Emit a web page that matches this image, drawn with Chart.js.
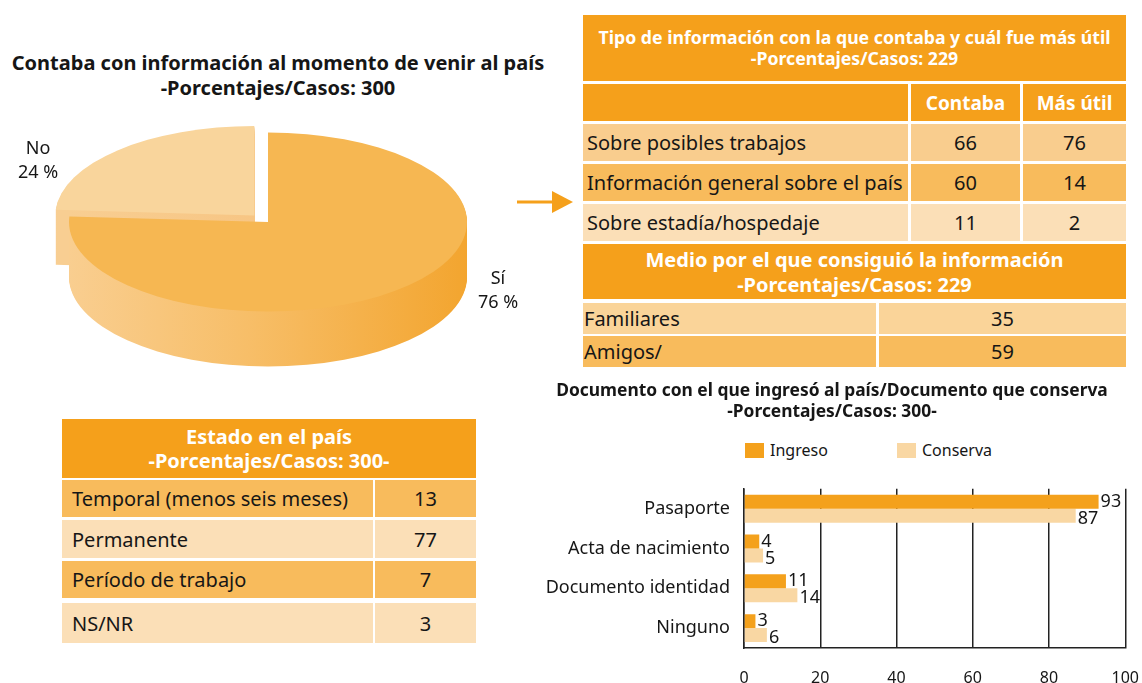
<!DOCTYPE html>
<html lang="es">
<head>
<meta charset="utf-8">
<script src="https://cdn.jsdelivr.net/npm/chart.js@4.4.0/dist/chart.umd.min.js"></script>
<style>
  body { margin: 0; width: 1142px; height: 683px; background: #fff; position: relative; overflow: hidden;
         font-family: "Noto Sans", sans-serif; color: #161616; }
  .abs { position: absolute; }
  .titulo { font-weight: bold; text-align: center; white-space: nowrap; }
  .celda { position: absolute; display: flex; align-items: center; box-sizing: border-box; white-space: nowrap; }
  canvas { position: absolute; }
</style>
</head>
<body>

<div class="abs titulo" style="left:-2px;top:50px;width:560px;font-size:20px;line-height:25px;">
  Contaba con información al momento de venir al país<br>-Porcentajes/Casos: 300
</div>
<canvas id="grafico-torta" width="560" height="300" style="left:0;top:100px;"></canvas>
<div id="etiquetas-torta"></div>

<svg class="abs" style="left:510px;top:186px;" width="70" height="34">
  <line x1="7" y1="16" x2="44" y2="16" stroke="#F5A01B" stroke-width="3"/>
  <polygon points="42,5 63,16 42,27" fill="#F5A01B"/>
</svg>

<div id="tablas"></div>

<div class="abs titulo" style="left:540px;top:379px;width:584px;font-size:17.4px;line-height:21px;">
  Documento con el que ingresó al país/Documento que conserva<br>-Porcentajes/Casos: 300-
</div>
<div id="leyenda-barras"></div>
<canvas id="grafico-barras" width="620" height="222" style="left:540px;top:464px;"></canvas>

<script>
/* --- Datos --- */
const PIE_LABELS = ['Sí', 'No'];
const PIE_VALUES = [76, 24];

const TIPO_FILAS = ['Sobre posibles trabajos', 'Información general sobre el país', 'Sobre estadía/hospedaje'];
const TIPO_CONTABA = [66, 60, 11];
const TIPO_UTIL = [76, 14, 2];

const MEDIO_FILAS = ['Familiares', 'Amigos/'];
const MEDIO_VALORES = [35, 59];

const ESTADO_FILAS = ['Temporal (menos seis meses)', 'Permanente', 'Período de trabajo', 'NS/NR'];
const ESTADO_VALORES = [13, 77, 7, 3];

const DOC_CATEGORIAS = ['Pasaporte', 'Acta de nacimiento', 'Documento identidad', 'Ninguno'];
const DOC_SERIES = ['Ingreso', 'Conserva'];
const DOC_INGRESO = [93, 4, 11, 3];
const DOC_CONSERVA = [87, 5, 14, 6];
const DOC_TICKS = [0, 20, 40, 60, 80, 100];

const NARANJA = '#F5A01B';
const OSCURO = '#F8BB5C';
const MEDIO = '#F9CD8E';
const CLARO = '#FBDFB7';

/* --- Tablas (celdas posicionadas) --- */
const contenedor = document.getElementById('tablas');

function celda(x, y, w, h, texto, fondo, opc = {}) {
  const d = document.createElement('div');
  d.className = 'celda';
  d.style.cssText += `left:${x}px;top:${y}px;width:${w}px;height:${h}px;background:${fondo};` +
    `font-size:${opc.size || 20}px;justify-content:${opc.align || 'center'};` +
    `padding-left:${opc.pad || 0}px;color:${opc.color || '#161616'};` +
    `font-weight:${opc.bold ? 'bold' : 'normal'};text-align:center;line-height:${opc.lh || 'normal'};`;
  d.innerHTML = texto;
  contenedor.appendChild(d);
}

const blanco = { color: '#fff', bold: true };

// Tipo de informacion
celda(583, 15, 543, 66, 'Tipo de información con la que contaba y cuál fue más útil<br>-Porcentajes/Casos: 229',
  NARANJA, { ...blanco, size: 17.7, lh: '21px' });
celda(583, 84, 325, 37, '', NARANJA);
celda(911, 84, 109, 37, 'Contaba', NARANJA, { ...blanco, size: 19 });
celda(1023, 84, 103, 37, 'Más útil', NARANJA, { ...blanco, size: 19 });
const tipoFondos = [MEDIO, OSCURO, CLARO];
const tipoY = [124, 164, 204];
TIPO_FILAS.forEach((f, i) => {
  celda(583, tipoY[i], 325, 37, f, tipoFondos[i], { align: 'flex-start', pad: 4 });
  celda(911, tipoY[i], 109, 37, TIPO_CONTABA[i], tipoFondos[i]);
  celda(1023, tipoY[i], 103, 37, TIPO_UTIL[i], tipoFondos[i]);
});

// Medio
celda(583, 244, 543, 55, 'Medio por el que consiguió la información<br>-Porcentajes/Casos: 229',
  NARANJA, { ...blanco, size: 20, lh: '25px' });
const medioFondos = ['#FAD499', OSCURO];
const medioY = [303, 336];
MEDIO_FILAS.forEach((f, i) => {
  celda(583, medioY[i], 293, 31, f, medioFondos[i], { align: 'flex-start', pad: 1 });
  celda(879, medioY[i], 247, 31, MEDIO_VALORES[i], medioFondos[i]);
});

// Estado en el pais
celda(62, 419, 414, 59, 'Estado en el país<br>-Porcentajes/Casos: 300-', NARANJA, { ...blanco, size: 20, lh: '24px' });
const estadoFondos = [OSCURO, CLARO, OSCURO, CLARO];
const estadoY = [480, 520, 561, 603];
const estadoH = [37, 38, 37, 40];
ESTADO_FILAS.forEach((f, i) => {
  celda(62, estadoY[i], 311, estadoH[i], f, estadoFondos[i], { align: 'flex-start', pad: 10 });
  celda(375, estadoY[i], 101, estadoH[i], ESTADO_VALORES[i], estadoFondos[i]);
});

/* --- Torta 3D --- */
const PROF = 55;      // grosor del canto
const ACHATE = 0.45;  // relacion eje vertical / horizontal
const COLORES_TAPA = ['#F6B752', '#F9D59C'];

const torta3d = {
  id: 'torta3d',
  beforeDatasetsDraw(chart) {
    const ctx = chart.ctx;
    const arcos = chart.getDatasetMeta(0).data;

    const trazar = (arco, dz) => {
      const mid = (arco.startAngle + arco.endAngle) / 2;
      const off = arco.options.offset || 0;
      ctx.save();
      ctx.translate(arco.x, arco.y + dz);
      ctx.scale(1, ACHATE);
      ctx.beginPath();
      const ox = Math.cos(mid) * off, oy = Math.sin(mid) * off;
      ctx.moveTo(ox, oy);
      ctx.arc(ox, oy, arco.outerRadius, arco.startAngle, arco.endAngle);
      ctx.closePath();
      ctx.restore();
    };

    const cx = arcos[0].x, R = arcos[0].outerRadius;
    const gradSi = ctx.createLinearGradient(cx - R, 0, cx + R, 0);
    gradSi.addColorStop(0, '#F9CE90');
    gradSi.addColorStop(0.45, '#F7BE68');
    gradSi.addColorStop(1, '#F3A52F');
    const gradNo = ctx.createLinearGradient(cx - R, 0, cx, 0);
    gradNo.addColorStop(0, '#F8CE92');
    gradNo.addColorStop(1, '#F7C583');
    const canto = [gradSi, gradNo];

    // canto: capas de abajo hacia arriba, la porcion trasera primero
    for (let dz = PROF; dz > 0; dz--) {
      for (let i = arcos.length - 1; i >= 0; i--) {
        trazar(arcos[i], dz);
        ctx.fillStyle = canto[i];
        ctx.fill();
      }
    }
    // tapa
    for (let i = arcos.length - 1; i >= 0; i--) {
      trazar(arcos[i], 0);
      ctx.fillStyle = COLORES_TAPA[i];
      ctx.fill();
    }
    return false;
  }
};

new Chart(document.getElementById('grafico-torta'), {
  type: 'pie',
  data: {
    labels: PIE_LABELS,
    datasets: [{ data: PIE_VALUES, backgroundColor: COLORES_TAPA, borderWidth: 0, offset: [0, 20], radius: 199 }]
  },
  options: {
    responsive: false,
    animation: false,
    radius: 199,
    layout: { padding: { left: 0, right: 24, top: 0, bottom: 56 } },
    plugins: { legend: { display: false }, tooltip: { enabled: false } }
  },
  plugins: [torta3d]
});

// etiquetas de la torta
const posEtiquetas = [{ x: 470, y: 265 }, { x: 10, y: 135 }];
PIE_LABELS.forEach((l, i) => {
  const d = document.createElement('div');
  d.className = 'abs';
  d.style.cssText = `left:${posEtiquetas[i].x}px;top:${posEtiquetas[i].y}px;width:56px;text-align:center;font-size:18px;line-height:24px;`;
  d.innerHTML = l + '<br>' + PIE_VALUES[i] + ' %';
  document.getElementById('etiquetas-torta').appendChild(d);
});

/* --- Barras horizontales --- */
const COLORES_DOC = ['#F4A11C', '#F9D7A3'];

const etiquetasValor = {
  id: 'etiquetasValor',
  afterDatasetsDraw(chart) {
    const ctx = chart.ctx;
    ctx.save();
    ctx.font = '18px "Noto Sans"';
    ctx.fillStyle = '#161616';
    ctx.textBaseline = 'middle';
    chart.data.datasets.forEach((ds, i) => {
      chart.getDatasetMeta(i).data.forEach((bar, j) => {
        ctx.fillText(String(ds.data[j]), bar.x + 2, bar.y + (i === 0 ? 0 : 3));
      });
    });
    ctx.restore();
  }
};

const graficoBarras = new Chart(document.getElementById('grafico-barras'), {
  type: 'bar',
  data: {
    labels: DOC_CATEGORIAS,
    datasets: [
      { label: DOC_SERIES[0], data: DOC_INGRESO, backgroundColor: COLORES_DOC[0] },
      { label: DOC_SERIES[1], data: DOC_CONSERVA, backgroundColor: COLORES_DOC[1] }
    ]
  },
  options: {
    indexAxis: 'y',
    responsive: false,
    animation: false,
    categoryPercentage: 0.7,
    barPercentage: 1,
    layout: { padding: { top: 9, right: 0, left: 0, bottom: 0 } },
    plugins: { legend: { display: false }, tooltip: { enabled: false } },
    scales: {
      x: {
        min: 0, max: 100,
        afterBuildTicks: (s) => { s.ticks = DOC_TICKS.map(v => ({ value: v })); },
        ticks: { font: { family: 'Noto Sans', size: 16 }, color: '#161616', padding: 21, maxRotation: 0 },
        grid: { color: '#222', lineWidth: 1.5, drawTicks: false },
        border: { display: true, color: '#222', width: 1.5 },
        afterFit: (s) => { s.height = 38; }
      },
      y: {
        ticks: { font: { family: 'Noto Sans', size: 18 }, color: '#161616', padding: 14 },
        grid: { display: false, drawTicks: false },
        border: { display: true, color: '#222', width: 1.5 },
        afterFit: (s) => { s.width = 204; }
      }
    }
  },
  plugins: [etiquetasValor]
});

// leyenda
const leyendaX = [745, 897];
graficoBarras.data.datasets.forEach((ds, i) => {
  const d = document.createElement('div');
  d.className = 'abs';
  d.style.cssText = `left:${leyendaX[i]}px;top:441px;font-size:16px;line-height:19px;display:flex;align-items:center;`;
  d.innerHTML = `<span style="display:inline-block;width:19px;height:15px;background:${ds.backgroundColor};margin-right:6px;"></span>${ds.label}`;
  document.getElementById('leyenda-barras').appendChild(d);
});
</script>
</body>
</html>
